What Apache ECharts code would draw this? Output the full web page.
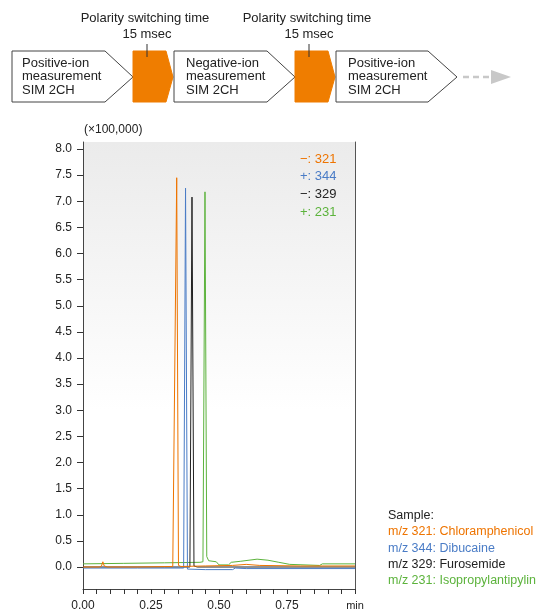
<!DOCTYPE html>
<html><head><meta charset="utf-8">
<script src="https://cdn.jsdelivr.net/npm/echarts@6/dist/echarts.min.js"></script>
<style>html,body{margin:0;padding:0;background:#fff}#c{width:545px;height:613px}</style>
</head><body><div id="c"></div>
<script>
// ---- data ----
var yTickValues = [0,0.5,1.0,1.5,2.0,2.5,3.0,3.5,4.0,4.5,5.0,5.5,6.0,6.5,7.0,7.5,8.0];
var xLabelValues = [0,0.25,0.5,0.75,1.0];
var xLabelTexts = ['0.00','0.25','0.50','0.75','min'];

var t321 = [0,0.06,0.068,0.073,0.078,0.09,0.2,0.33,0.337,0.3445,0.351,0.36,0.45,0.55,0.6,0.65,0.8,1.0];
var v321 = [0.0,0.0,0.02,0.1,0.02,0.0,0.0,0.01,0.02,7.45,0.03,0.01,0.02,0.03,0.05,0.03,0.02,0.02];

var t344 = [0,0.2,0.36,0.37,0.377,0.384,0.39,0.45,0.55,0.56,0.6,1.0];
var v344 = [-0.02,-0.02,-0.02,-0.02,7.25,-0.04,-0.06,-0.05,-0.05,-0.02,-0.03,-0.03];

var t329 = [0,0.3,0.393,0.4007,0.408,0.42,1.0];
var v329 = [0.0,0.0,0.0,7.08,0.02,0.0,0.0];

var t231 = [0,0.15,0.3,0.43,0.441,0.4485,0.455,0.462,0.49,0.5,0.535,0.545,0.58,0.64,0.68,0.72,0.76,0.87,0.88,1.0];
var v231 = [0.06,0.07,0.08,0.09,0.1,7.18,0.2,0.12,0.1,0.04,0.04,0.09,0.11,0.15,0.13,0.09,0.05,0.03,0.06,0.06];

var legendTexts = ['\u2212: 321','+: 344','\u2212: 329','+: 231'];
var sampleTexts = ['m/z 321: Chloramphenicol','m/z 344: Dibucaine','m/z 329: Furosemide','m/z 231: Isopropylantipylin'];
var colors = ['#ee7400','#4a7cc6','#222222','#5cb33c'];

function pairs(t,v){return t.map(function(x,i){return [x,v[i]];});}

var FONT = '"Liberation Sans", Arial, sans-serif';
var chart = echarts.init(document.getElementById('c'));

// diagram graphics
var g = [];
function box(pts, fill, stroke){
  g.push({type:'polygon', shape:{points:pts}, style:{fill:fill, stroke:stroke, lineWidth:1}, z:10});
}
function txt(x,y,text,color,size,align){
  g.push({type:'text', x:x, y:y, style:{text:text, fill:color, font: size+'px '+FONT, textAlign:align||'left', textVerticalAlign:'middle'}, z:11});
}
box([[12,51],[105,51],[133,77],[105,102],[12,102]], '#fff', '#444');
box([[133,51],[166,51],[173,77],[166,102],[133,102]], '#ef7d00', '#ef7d00');
box([[174,51],[267,51],[295,77],[267,102],[174,102]], '#fff', '#444');
box([[295,51],[328,51],[335,77],[328,102],[295,102]], '#ef7d00', '#ef7d00');
box([[336,51],[428,51],[457,77],[428,102],[336,102]], '#fff', '#444');
g.push({type:'line', shape:{x1:147,y1:44,x2:147,y2:57}, style:{stroke:'#333',lineWidth:1}, z:12});
g.push({type:'line', shape:{x1:309,y1:44,x2:309,y2:57}, style:{stroke:'#333',lineWidth:1}, z:12});
g.push({type:'line', shape:{x1:463,y1:77,x2:492,y2:77}, style:{stroke:'#c8c8c8',lineWidth:2.5,lineDash:[6,4]}, z:10});
g.push({type:'polygon', shape:{points:[[491,70],[511,77],[491,84]]}, style:{fill:'#c8c8c8'}, z:10});
txt(145,18,'Polarity switching time','#222',13,'center');
txt(147,34,'15 msec','#222',13,'center');
txt(307,18,'Polarity switching time','#222',13,'center');
txt(309,34,'15 msec','#222',13,'center');
var blocks = [[22,['Positive-ion','measurement','SIM 2CH']],[186,['Negative-ion','measurement','SIM 2CH']],[348,['Positive-ion','measurement','SIM 2CH']]];
blocks.forEach(function(b){ b[1].forEach(function(s,i){ txt(b[0], 63+i*13.5, s, '#222', 13); }); });
// axis unit
txt(84,130,'(\u00d7100,000)','#222',12);
// legend
legendTexts.forEach(function(s,i){ txt(300, 159+i*17.8, s, colors[i], 13); });
// sample
txt(388,516,'Sample:','#222',12.5);
sampleTexts.forEach(function(s,i){ txt(388, 532+i*16.3, s, colors[i], 12.5); });

var yMin = -0.421, yMax = 8.134;
var option = {
  backgroundColor:'#fff',
  animation:false,
  textStyle:{fontFamily:FONT},
  grid:{left:83, top:142, width:272, height:447, show:true, borderWidth:0, outerBoundsMode:'none', containLabel:false,
    backgroundColor:new echarts.graphic.LinearGradient(0,0,0,1,[{offset:0,color:'#ebebeb'},{offset:0.6,color:'#ffffff'},{offset:1,color:'#ffffff'}])},
  xAxis:{type:'value', min:0, max:1, interval:0.05,
    axisLine:{show:true, onZero:false, lineStyle:{color:'#444',width:1}},
    axisTick:{show:true, length:5, lineStyle:{color:'#333'}},
    axisLabel:{customValues:xLabelValues, margin:11, fontSize:12, color:'#222', fontFamily:FONT,
      formatter:function(v){var i=xLabelValues.indexOf(v); if(i<0){for(var k=0;k<xLabelValues.length;k++){if(Math.abs(xLabelValues[k]-v)<1e-6)i=k;}} return i===4?'{m|min}':(i>=0?xLabelTexts[i]:'');},
      rich:{m:{fontSize:11,color:'#222',fontFamily:FONT}}},
    splitLine:{show:false}},
  yAxis:[{type:'value', min:yMin, max:yMax,
    axisLine:{show:true, onZero:false, lineStyle:{color:'#444',width:1}},
    axisTick:{show:true, customValues:yTickValues, length:6, lineStyle:{color:'#333'}},
    axisLabel:{customValues:yTickValues, margin:11, fontSize:12, color:'#222', fontFamily:FONT, formatter:function(v){return v.toFixed(1);}},
    splitLine:{show:false}},
   {type:'value', position:'right', min:yMin, max:yMax,
    axisLine:{show:true, onZero:false, lineStyle:{color:'#555',width:1}},
    axisTick:{show:false}, axisLabel:{show:false}, splitLine:{show:false}}],
  series:[
    {type:'line', name:'231', data:pairs(t231,v231), symbol:'none', lineStyle:{color:colors[3],width:1}, z:2},
    {type:'line', name:'329', data:pairs(t329,v329), symbol:'none', lineStyle:{color:colors[2],width:1}, z:3},
    {type:'line', name:'344', data:pairs(t344,v344), symbol:'none', lineStyle:{color:colors[1],width:1}, z:4},
    {type:'line', name:'321', data:pairs(t321,v321), symbol:'none', lineStyle:{color:colors[0],width:1}, z:5}
  ],
  graphic:g
};
chart.setOption(option);
</script></body></html>
